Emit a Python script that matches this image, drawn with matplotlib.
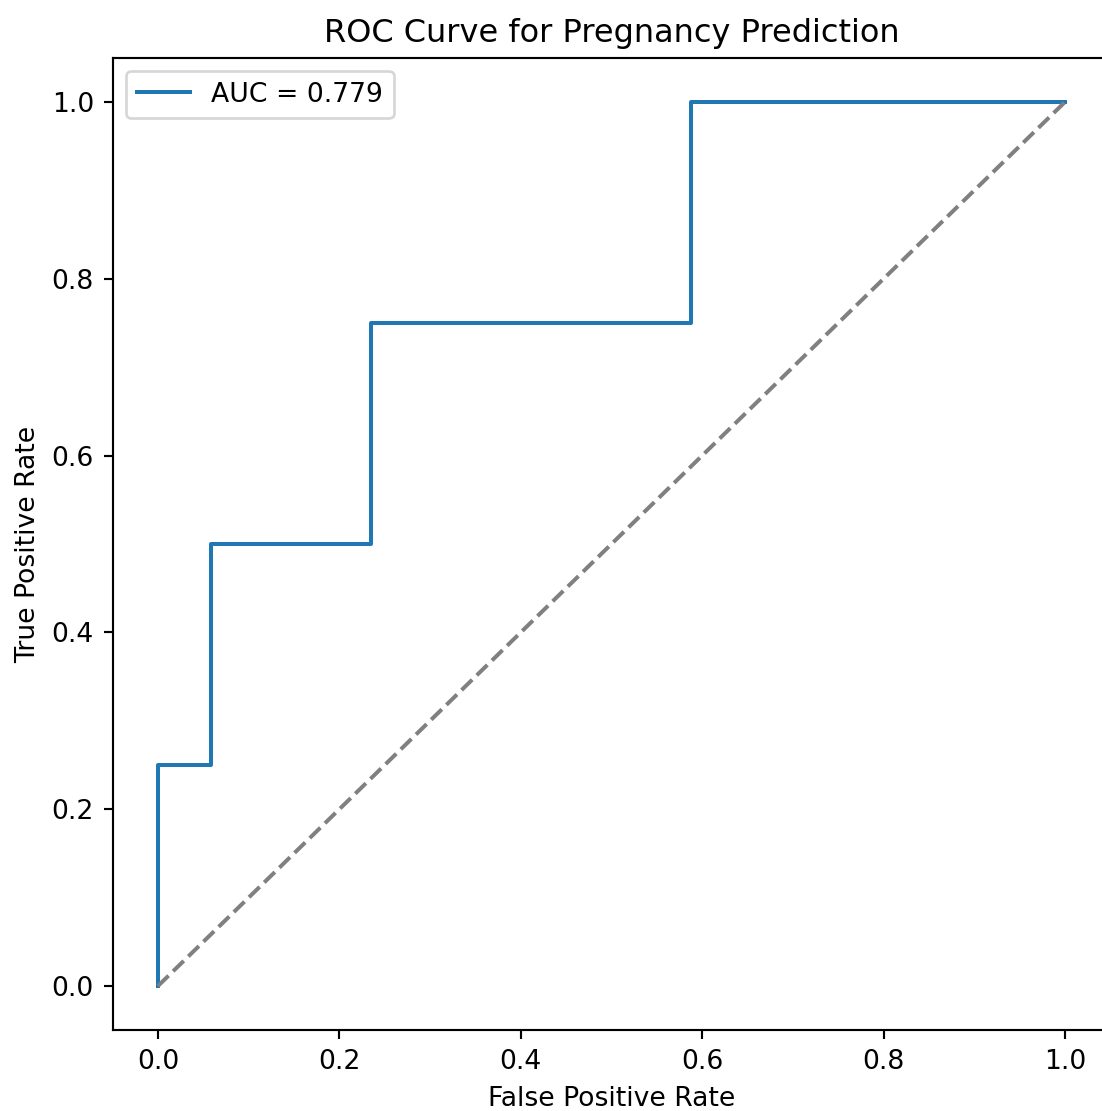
import matplotlib
matplotlib.use("Agg")
import matplotlib.pyplot as plt

fpr = [0.0, 0.0, 1/17, 1/17, 4/17, 4/17, 10/17, 10/17, 1.0]
tpr = [0.0, 0.25, 0.25, 0.5, 0.5, 0.75, 0.75, 1.0, 1.0]
auc_label = "AUC = 0.779"

DPI = 192
fig = plt.figure(figsize=(1102/DPI, 1111/DPI), dpi=DPI)
ax = fig.add_axes([112.6/1102, 80.8/1111, 997.7/1102, 972.4/1111])
ax.plot(fpr, tpr, label=auc_label)
ax.plot([0, 1], [0, 1], linestyle="--", color="gray")
ax.set_xlabel("False Positive Rate")
ax.set_ylabel("True Positive Rate")
ax.set_title("ROC Curve for Pregnancy Prediction")
ax.legend(loc="upper left")
fig.savefig("out.png", dpi=DPI)
